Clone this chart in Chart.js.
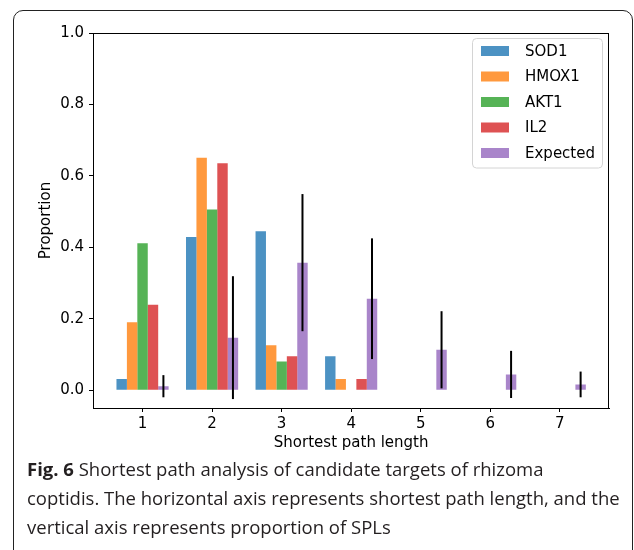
<!DOCTYPE html>
<html>
<head>
<meta charset="utf-8">
<script src="https://cdn.jsdelivr.net/npm/chart.js@4/dist/chart.umd.min.js"></script>
<style>
  html, body { margin: 0; padding: 0; background: #fff; }
  body { width: 634px; height: 550px; position: relative; overflow: hidden; }
  #frame { position: absolute; left: 13px; top: 10px; width: 620px; height: 560px; border: 1.4px solid #222; border-radius: 10px; box-sizing: border-box; }
  #wrap { position: absolute; left: 0; top: 0; width: 634px; height: 460px; }
  #caption { position: absolute; left: 27px; top: 454px; font-family: "Open Sans", sans-serif; font-size: 18.5px; line-height: 29px; color: #231f20; white-space: nowrap; }
  #caption b { font-weight: 700; }
</style>
</head>
<body>
<div id="frame"></div>
<div id="wrap"><canvas id="c" width="634" height="460"></canvas></div>
<div id="caption"><b>Fig. 6</b> Shortest path analysis of candidate targets of rhizoma<br>coptidis. The horizontal axis represents shortest path length, and the<br>vertical axis represents proportion of SPLs</div>
<script>
// ---- data ----
const categories = [1, 2, 3, 4, 5, 6, 7];
const seriesNames = ["SOD1", "HMOX1", "AKT1", "IL2", "Expected"];
const sod1     = [0.031, 0.429, 0.445, 0.095, 0, 0, 0];
const hmox1    = [0.190, 0.651, 0.126, 0.031, 0, 0, 0];
const akt1     = [0.411, 0.506, 0.080, 0, 0, 0, 0];
const il2      = [0.239, 0.635, 0.095, 0.031, 0, 0, 0];
const expected = [0.011, 0.147, 0.357, 0.256, 0.113, 0.044, 0.016];
const expectedErr = [0.031, 0.172, 0.192, 0.169, 0.108, 0.066, 0.036];
const yTicks = [0, 0.2, 0.4, 0.6, 0.8, 1.0];
const xTicks = [1, 2, 3, 4, 5, 6, 7];

const colors = ["rgba(31,119,180,0.8)", "rgba(255,127,14,0.8)", "rgba(44,160,44,0.8)", "rgba(214,39,40,0.8)", "rgba(148,103,189,0.8)"];
const seriesValues = [sod1, hmox1, akt1, il2, expected];

const datasets = seriesValues.map((vals, i) => ({
  label: seriesNames[i],
  data: categories.map((c, j) => ({ x: c, y: vals[j] })),
  backgroundColor: colors[i],
  borderWidth: 0,
  categoryPercentage: 0.75,
  barPercentage: 1.0
}));

const FONT = "'DejaVu Sans', sans-serif";

const framePlugin = {
  id: 'framePlugin',
  afterDatasetsDraw(chart) {
    const ctx = chart.ctx;
    const ys = chart.scales.y;
    const meta = chart.getDatasetMeta(4);
    ctx.save();
    ctx.strokeStyle = '#000';
    ctx.lineWidth = 2;
    meta.data.forEach((el, i) => {
      const top = ys.getPixelForValue(expected[i] + expectedErr[i]);
      const bot = ys.getPixelForValue(expected[i] - expectedErr[i]);
      ctx.beginPath();
      ctx.moveTo(el.x, top);
      ctx.lineTo(el.x, bot);
      ctx.stroke();
    });
    ctx.restore();
  },
  afterDraw(chart) {
    const ctx = chart.ctx;
    const a = chart.chartArea;
    ctx.save();
    ctx.fillStyle = '#000';
    const L = Math.round(a.left), R = Math.round(a.right), T = Math.round(a.top), B = Math.round(a.bottom);
    ctx.fillRect(L, T, R - L, 1);      // top spine
    ctx.fillRect(R - 1, T, 1, B - T);  // right spine
    // legend
    const bx1 = R - 7, bx0 = R - 137;
    const by0 = T + 5, rowH = 25.5;
    const by1 = by0 + 5 * rowH + 2;
    ctx.beginPath();
    if (ctx.roundRect) ctx.roundRect(bx0 + 0.5, by0 + 0.5, bx1 - bx0, by1 - by0, 4); else ctx.rect(bx0 + 0.5, by0 + 0.5, bx1 - bx0, by1 - by0);
    ctx.fillStyle = 'rgba(255,255,255,0.8)';
    ctx.fill();
    ctx.lineWidth = 1;
    ctx.strokeStyle = '#d4d4d4';
    ctx.stroke();
    ctx.font = "15px " + FONT;
    ctx.textBaseline = 'middle';
    ctx.textAlign = 'left';
    chart.data.datasets.forEach((ds, i) => {
      const cy = by0 + 13 + i * rowH;
      ctx.fillStyle = ds.backgroundColor;
      ctx.fillRect(bx0 + 9, cy - 5, 28, 10);
      ctx.fillStyle = '#000';
      ctx.fillText(ds.label, bx0 + 53, cy + 1);
    });
    ctx.restore();
  }
};

new Chart(document.getElementById('c'), {
  type: 'bar',
  data: { datasets },
  options: {
    responsive: false,
    animation: false,
    devicePixelRatio: 1,
    layout: { padding: { left: 0, top: 33, right: 24.7, bottom: 0 } },
    plugins: { legend: { display: false }, tooltip: { enabled: false } },
    scales: {
      x: {
        type: 'linear',
        offset: false,
        min: 0.2875, max: 7.7125,
        afterBuildTicks: s => { s.ticks = xTicks.map(v => ({ value: v })); },
        afterFit: s => { s.height = 52; },
        grid: { display: true, offset: false, drawOnChartArea: false, drawTicks: true, tickLength: 4, color: '#000' },
        border: { display: true, color: '#000', width: 1 },
        ticks: { color: '#000', font: { family: FONT, size: 15 }, padding: 3, callback: v => String(v) },
        title: { display: true, text: 'Shortest path length', color: '#000', font: { family: FONT, size: 15 }, padding: { top: 0, bottom: 8 } }
      },
      y: {
        type: 'linear',
        min: -0.05, max: 1.0,
        afterBuildTicks: s => { s.ticks = yTicks.map(v => ({ value: v })); },
        afterFit: s => { s.width = 93; },
        grid: { display: true, drawOnChartArea: false, drawTicks: true, tickLength: 4, color: '#000' },
        border: { display: true, color: '#000', width: 1 },
        ticks: { color: '#000', font: { family: FONT, size: 15 }, padding: 5, callback: v => Number(v).toFixed(1) },
        title: { display: true, text: 'Proportion', color: '#000', font: { family: FONT, size: 15 }, padding: { top: 37, bottom: 0 } }
      }
    }
  },
  plugins: [framePlugin]
});
</script>
</body>
</html>
